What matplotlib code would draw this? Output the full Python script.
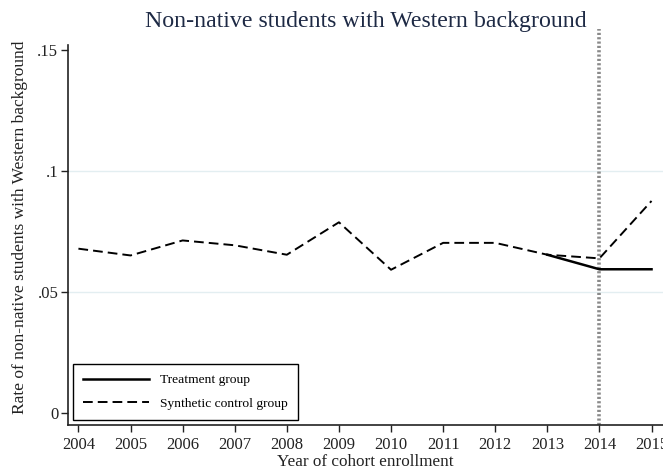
import matplotlib.pyplot as plt

years = [2004, 2005, 2006, 2007, 2008, 2009, 2010, 2011, 2012, 2013, 2014, 2015]
synthetic = [0.0680, 0.0652, 0.0714, 0.0694, 0.0655, 0.0789, 0.0593, 0.0704, 0.0704, 0.0655, 0.0640, 0.0877]

treat_years = [2013, 2014, 2015]
treatment = [0.0655, 0.0595, 0.0595]

y_ticks = [0, 0.05, 0.1, 0.15]
y_tick_labels = ["0", ".05", ".1", ".15"]
grid_levels = [0.05, 0.1]
treat_start = 2014

plt.rcParams['font.family'] = ['Liberation Serif', 'DejaVu Serif']

fig = plt.figure(figsize=(6.63, 4.72), dpi=100)
ax = fig.add_axes([68 / 663, 47 / 472, 595 / 663, 396 / 472])

for g in grid_levels:
    ax.axhline(g, color='#e3eef1', lw=1.0, zorder=0)

ax.axvline(treat_start, color='#8a8a8a', lw=2.6, linestyle=(0, (0.6, 0.6)), zorder=1)

ax.plot(treat_years, treatment, color='black', lw=1.8, label='Treatment group', zorder=3)
ax.plot(years, synthetic, color='black', lw=1.4, dashes=(5, 2.6), label='Synthetic control group', zorder=3)

ax.set_xlim(2003.8, 2015.22)
ax.set_ylim(-0.0048, 0.1587)
ax.set_xticks(years)
ax.set_xticklabels([str(y) for y in years])
ax.set_yticks(y_ticks)
ax.set_yticklabels(y_tick_labels)

for side in ['top', 'right']:
    ax.spines[side].set_visible(False)
ax.spines['left'].set_bounds(-0.0048, 0.152)
for side in ['left', 'bottom']:
    ax.spines[side].set_color('#222222')
    ax.spines[side].set_linewidth(1.2)
ax.tick_params(axis='both', direction='out', length=5, width=1, color='#222222',
               labelsize=12, labelcolor='#222222')
ax.tick_params(axis='y', pad=2)

# title sits right on top of the plot region
fig.text(365.5 / 663, 1 - 27 / 472, 'Non-native students with Western background',
         ha='center', va='baseline', fontsize=17.2, color='#1e2a45')
ax.set_xlabel('Year of cohort enrollment', fontsize=12.3, color='#222222', labelpad=1)
ax.set_ylabel('Rate of non-native students with Western background', fontsize=12.5,
              color='#222222', labelpad=7)

leg = ax.legend(loc='lower left', bbox_to_anchor=(0.008, 0.012), borderaxespad=0,
                fancybox=False, edgecolor='black', framealpha=1, fontsize=9.7,
                handlelength=4.9, borderpad=0.75, labelspacing=0.85, handletextpad=0.8)
leg.get_frame().set_linewidth(1.0)

fig.savefig('out.png', dpi=100)
